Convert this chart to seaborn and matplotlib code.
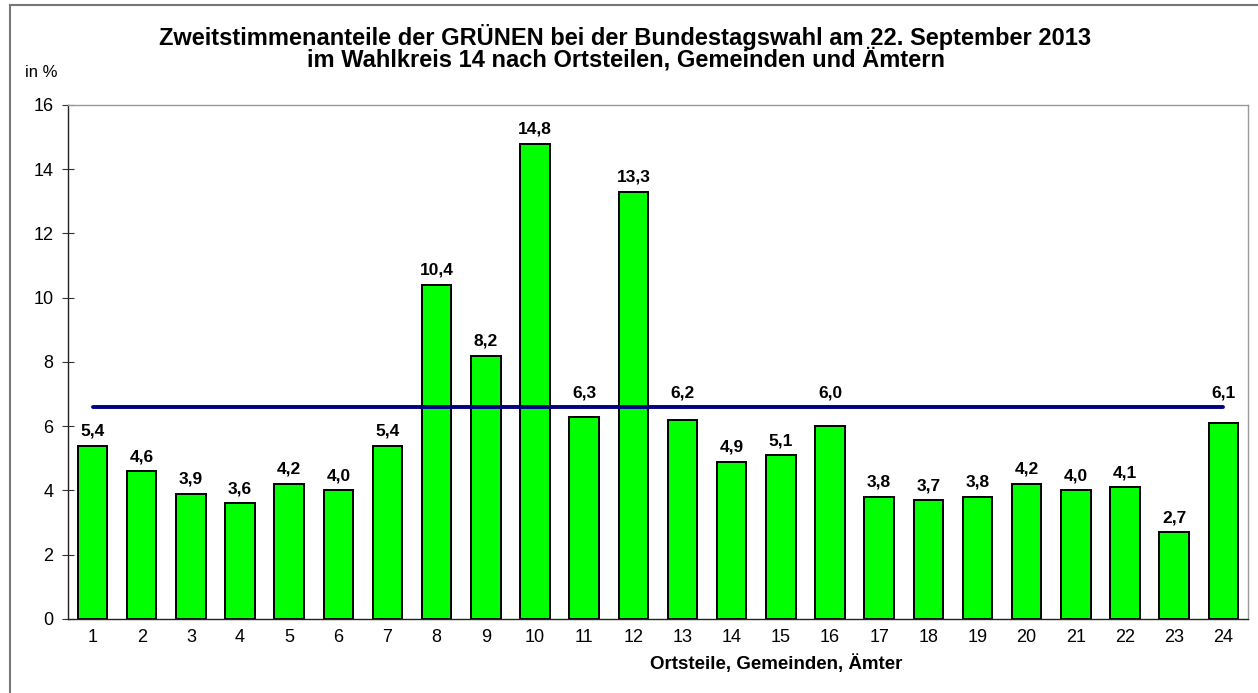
import pandas as pd
import matplotlib.pyplot as plt
import matplotlib.patches as mpatches
import seaborn as sns

# Daten
ortsteile = [str(i) for i in range(1, 25)]
anteile = [5.4, 4.6, 3.9, 3.6, 4.2, 4.0, 5.4, 10.4, 8.2, 14.8, 6.3, 13.3,
           6.2, 4.9, 5.1, 6.0, 3.8, 3.7, 3.8, 4.2, 4.0, 4.1, 2.7, 6.1]
wahlkreis_anteil = 6.6

df = pd.DataFrame({'ortsteil': ortsteile, 'anteil': anteile})

sns.set_style('white')
plt.rcParams['font.family'] = ['Liberation Sans', 'DejaVu Sans']
plt.rcParams['text.color'] = 'black'
plt.rcParams['axes.labelcolor'] = 'black'
plt.rcParams['xtick.color'] = 'black'
plt.rcParams['ytick.color'] = 'black'

fig = plt.figure(figsize=(12.58, 6.93), dpi=100)
ax = fig.add_axes([0.054, 0.1068, 0.938, 0.7417])

sns.barplot(data=df, x='ortsteil', y='anteil', color='#00ff00', saturation=1,
            edgecolor='black', linewidth=1.4, width=0.6, ax=ax)

# Linie fuer den Wahlkreis
ax.plot([0, len(ortsteile) - 1], [wahlkreis_anteil, wahlkreis_anteil],
        color='#000080', lw=2.8, solid_capstyle='round', zorder=3)

# Werte ueber den Saeulen
for i, v in enumerate(anteile):
    y = v + 0.22
    if v < wahlkreis_anteil and v + 0.9 > wahlkreis_anteil:
        y = wahlkreis_anteil + 0.2
    ax.text(i, y, f'{v:.1f}'.replace('.', ','), ha='center', va='bottom',
            fontsize=12.5, fontweight='bold')

ax.set_xlim(-0.5, len(ortsteile) - 0.5)
ax.set_ylim(0, 16)
ax.set_yticks(range(0, 17, 2))
ax.set_xticks([i - 0.5 for i in range(len(ortsteile) + 1)], minor=True)
ax.tick_params(axis='x', which='major', length=0, labelsize=13, pad=7)
ax.tick_params(axis='x', which='minor', length=7, direction='inout', width=0.8, color='#333333')
ax.tick_params(axis='y', length=9, direction='inout', width=0.8, labelsize=13, pad=6,
               color='#333333', left=True)

for s in ['left', 'bottom']:
    ax.spines[s].set_color('#222222')
    ax.spines[s].set_linewidth(1.0)
for s in ['top', 'right']:
    ax.spines[s].set_color('#999999')
    ax.spines[s].set_linewidth(1.0)

ax.set_xlabel('Ortsteile, Gemeinden, Ämter', fontsize=13.5, fontweight='bold', va='center')
ax.xaxis.set_label_coords(0.600, -0.0875)
ax.set_ylabel('')

fig.text(0.497, 1 - 37 / 693, 'Zweitstimmenanteile der GRÜNEN bei der Bundestagswahl am 22. September 2013',
         ha='center', va='center', fontsize=17, fontweight='bold')
fig.text(0.498, 1 - 60 / 693, 'im Wahlkreis 14 nach Ortsteilen, Gemeinden und Ämtern',
         ha='center', va='center', fontsize=17, fontweight='bold')
fig.text(0.02, 0.895, 'in %', ha='left', va='center', fontsize=12)

# Rahmen
fig.patches.append(mpatches.Rectangle((10 / 1258, -0.02), 1.1, 1 - 5 / 693 + 0.02,
                                      transform=fig.transFigure, fill=False,
                                      edgecolor='#777777', lw=1.5))

plt.savefig('out.png', dpi=100)
